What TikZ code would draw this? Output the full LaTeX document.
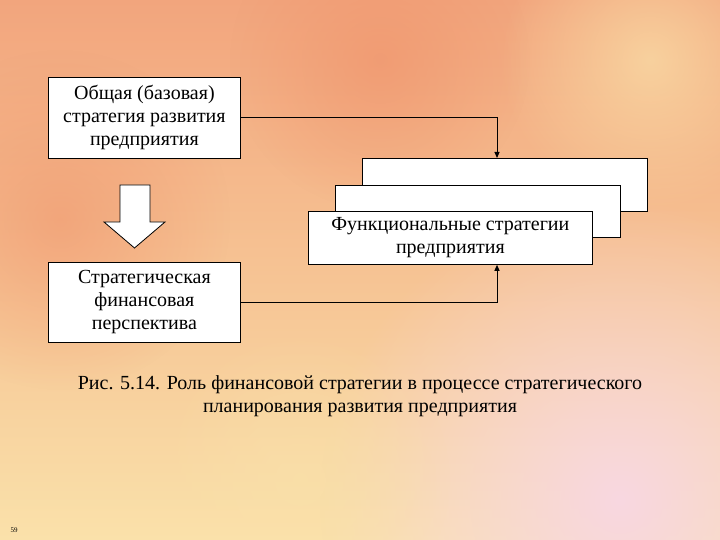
\documentclass[tikz,border=0pt]{standalone}
\usepackage{fontspec}
\setmainfont{Liberation Serif}
\usetikzlibrary{arrows.meta,fadings}
\definecolor{bgA}{RGB}{247,200,160}
\definecolor{bgB}{RGB}{240,150,110}
\definecolor{bgC}{RGB}{250,225,170}
\definecolor{bgD}{RGB}{248,215,225}
\tikzfading[name=softdisc, inner color=transparent!0, outer color=transparent!100]
\tikzset{
  wbox/.style={draw=black,fill=white,line width=0.8pt,align=center,inner sep=0pt},
  conn/.style={line width=1pt,-{Triangle[length=6pt,width=5pt]}},
  txt/.style={font=\fontsize{20}{23}\selectfont}
}
\begin{document}
\begin{tikzpicture}[x=1pt,y=-1pt]
\useasboundingbox (0,0) rectangle (720,540);
\shade[left color=bgB!70!bgA, right color=bgC, shading angle=0] (0,0) rectangle (720,540);
\fill[bgD,path fading=softdisc] (620,500) circle (300);
\fill[bgB,opacity=0.7,path fading=softdisc] (380,60) circle (150);
\fill[bgB,opacity=0.6,path fading=softdisc] (60,220) circle (170);
\fill[bgC,opacity=0.7,path fading=softdisc] (650,60) circle (150);
\fill[bgC,opacity=0.6,path fading=softdisc] (300,480) circle (150);
% boxes
\node[wbox,minimum width=192,minimum height=81,anchor=north west,txt] (top) at (48,77) {Общая (базовая)\\стратегия развития\\предприятия};
\node[wbox,minimum width=192,minimum height=80,anchor=north west,txt] (bot) at (48,262) {Стратегическая\\финансовая\\перспектива};
\node[wbox,minimum width=285,minimum height=53,anchor=north west] (b3) at (362,158) {};
\node[wbox,minimum width=285,minimum height=52,anchor=north west] (b2) at (335,185) {};
\node[wbox,minimum width=284,minimum height=53,anchor=north west,txt] (b1) at (308,211) {Функциональные стратегии\\предприятия};
\coordinate (c1) at (497,118);
\coordinate (c2) at (497,302);
\draw[conn] (top.east |- c1) -- (c1) -- (c1 |- b3.north);
\draw[conn] (bot.east |- c2) -- (c2) -- (c2 |- b1.south);
% block arrow
\draw[fill=white,line width=0.8pt] (120,185) -- (150,185) -- (150,222) -- (165,222) -- (134.5,248) -- (104,222) -- (120,222) -- cycle;
\node[txt,align=center] (cap) at (360,396) {Рис. 5.14. Роль финансовой стратегии в процессе стратегического\\планирования развития предприятия};
\node[font=\fontsize{7}{8}\selectfont] (num) at (14,530) {59};
\end{tikzpicture}
\end{document}
